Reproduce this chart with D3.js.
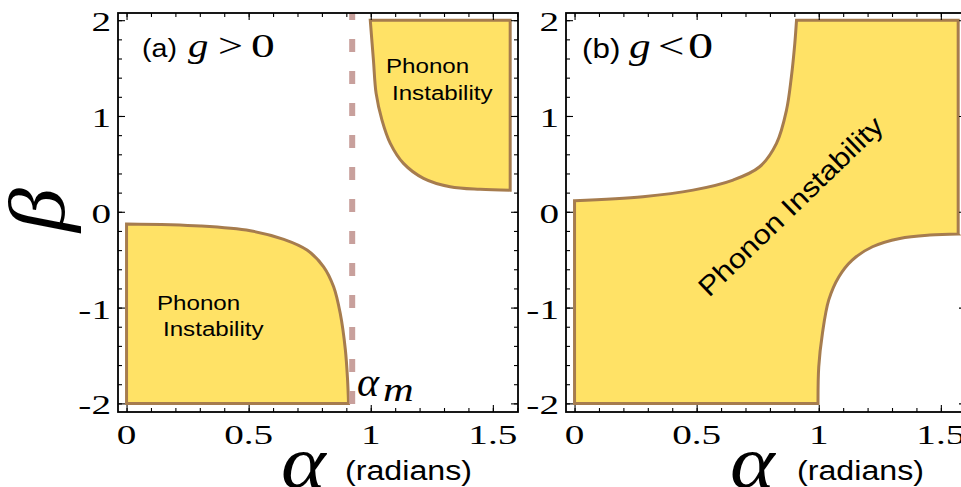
<!DOCTYPE html>
<html>
<head>
<meta charset="utf-8">
<script src="https://cdn.jsdelivr.net/npm/d3@7"></script>
<style>
body { margin: 0; background: #fff; }
svg { display: block; }
</style>
</head>
<body>
<script>
// tick values / labels
var xMajor = [0, 0.5, 1, 1.5];
var xLabels = ["0", "0.5", "1", "1.5"];
var xMinor = [0, 0.1, 0.2, 0.3, 0.4, 0.5, 0.6, 0.7, 0.8, 0.9, 1, 1.1, 1.2, 1.3, 1.4, 1.5, 1.6];
var yMajor = [-2, -1, 0, 1, 2];
var yLabels = ["-2", "-1", "0", "1", "2"];
var yMinor = [-2, -1.8, -1.6, -1.4, -1.2, -1, -0.8, -0.6, -0.4, -0.2, 0, 0.2, 0.4, 0.6, 0.8, 1, 1.2, 1.4, 1.6, 1.8, 2];
var alphaM = 0.924;

// (a) g > 0 : lower-left boundary
var aLowAlpha = [0, 0.303, 0.507, 0.644, 0.739, 0.807, 0.848, 0.875, 0.896, 0.905, 0.909];
var aLowBeta = [-0.128, -0.149, -0.198, -0.288, -0.40, -0.574, -0.783, -1.06, -1.44, -1.75, -2];
// (a) upper-right boundary
var aHighAlpha = [0.998, 1.011, 1.022, 1.046, 1.080, 1.134, 1.216, 1.325, 1.448, 1.571];
var aHighBeta = [2, 1.584, 1.236, 0.957, 0.714, 0.505, 0.349, 0.261, 0.234, 0.226];
// (b) g < 0 : upper boundary
var bHighAlpha = [0, 0.28, 0.485, 0.649, 0.758, 0.827, 0.868, 0.888, 0.902, 0.909];
var bHighBeta = [0.115, 0.157, 0.226, 0.331, 0.47, 0.714, 1.062, 1.41, 1.758, 2];
// (b) lower boundary
var bLowAlpha = [0.997, 1.0, 1.015, 1.041, 1.082, 1.137, 1.22, 1.332, 1.455, 1.571];
var bLowBeta = [-2, -1.618, -1.27, -0.92, -0.68, -0.504, -0.365, -0.278, -0.243, -0.233];

var W = 961, H = 487;
var top_ = 13, bottom = 412, panelW = 400;
var fillCol = "#FFE266", edgeCol = "#A67C4E";
var serif = "'Liberation Serif', 'Times New Roman', serif";
var sans = "'Liberation Sans', Arial, sans-serif";

var svg = d3.select("body").append("svg")
    .attr("width", W)
    .attr("height", H);

function zip(a, b) { return a.map(function (v, i) { return [v, b[i]]; }); }

function txt(g, x, y, s, o) {
    return g.append("text")
        .attr("transform", "translate(" + x + "," + y + ")" + (o.rot ? " rotate(" + o.rot + ")" : "") + " scale(" + (o.sx || 1) + ",1)")
        .attr("font-family", o.family)
        .attr("font-size", o.size)
        .attr("font-style", o.italic ? "italic" : null)
        .attr("text-anchor", o.anchor || "start")
        .attr("fill", "#000")
        .text(s);
}

function drawPanel(left) {
    var g = svg.append("g");
    var x = d3.scaleLinear().domain([-0.035, 1.603]).range([left, left + panelW]);
    var y = d3.scaleLinear().domain([-2.09, 2.075]).range([bottom, top_]);
    var curve = d3.line()
        .x(function (d) { return x(d[0]); })
        .y(function (d) { return y(d[1]); })
        .curve(d3.curveCatmullRom.alpha(0.5));
    function pt(p) { return x(p[0]) + "," + y(p[1]); }
    // region = corners before, smooth curve, corners after
    function region(before, pts, after) {
        var c = curve(pts);
        var d = before.length ? "M" + before.map(pt).join("L") + "L" + c.slice(1) : c;
        after.forEach(function (p) { d += "L" + pt(p); });
        return d + "Z";
    }
    return { g: g, x: x, y: y, curve: curve, region: region, pt: pt };
}

function drawFrame(p) {
    var g = p.g, x = p.x, y = p.y;
    var left = x.range()[0], right = x.range()[1];
    g.append("rect")
        .attr("x", left).attr("y", top_)
        .attr("width", right - left).attr("height", bottom - top_)
        .attr("fill", "none").attr("stroke", "#000").attr("stroke-width", 1.8);

    var axes = [
        [d3.axisBottom, "translate(0," + bottom + ")", x, xMajor, xMinor],
        [d3.axisTop, "translate(0," + top_ + ")", x, xMajor, xMinor],
        [d3.axisLeft, "translate(" + left + ",0)", y, yMajor, yMinor],
        [d3.axisRight, "translate(" + right + ",0)", y, yMajor, yMinor]
    ];
    axes.forEach(function (a) {
        [[a[3], -7], [a[4], -4]].forEach(function (t) {
            var ax = g.append("g").attr("transform", a[1])
                .call(a[0](a[2]).tickValues(t[0]).tickSize(t[1]).tickFormat(""));
            ax.select(".domain").remove();
            ax.selectAll("line").attr("stroke", "#000").attr("stroke-width", 1.1);
        });
    });

    g.selectAll(".xl").data(xMajor).enter().append("text")
        .attr("transform", function (d) { return "translate(" + x(d) + ",444) scale(1.4,1)"; })
        .attr("text-anchor", "middle")
        .attr("font-family", serif).attr("font-size", 28)
        .text(function (d, i) { return xLabels[i]; });
    g.selectAll(".yl").data(yMajor).enter().append("text")
        .attr("transform", function (d) { return "translate(" + (left - 7) + "," + (y(d) + 11) + ") scale(1.4,1)"; })
        .attr("text-anchor", "end")
        .attr("font-family", serif).attr("font-size", 28)
        .text(function (d, i) { return yLabels[i]; });
}

// ---------- panel (a) g > 0 ----------
var pa = drawPanel(118);
pa.g.append("path")
    .attr("d", pa.region([[0, -2]], zip(aLowAlpha, aLowBeta), []))
    .attr("fill", fillCol).attr("stroke", edgeCol).attr("stroke-width", 3).attr("stroke-linejoin", "miter");
pa.g.append("path")
    .attr("d", pa.region([], zip(aHighAlpha, aHighBeta), [[1.571, 2]]))
    .attr("fill", fillCol).attr("stroke", edgeCol).attr("stroke-width", 3).attr("stroke-linejoin", "miter");
pa.g.append("line")
    .attr("x1", pa.x(alphaM)).attr("x2", pa.x(alphaM))
    .attr("y1", top_).attr("y2", bottom)
    .attr("stroke", "#C8A09C").attr("stroke-width", 6)
    .attr("stroke-dasharray", "13,19").attr("stroke-dashoffset", 6);
drawFrame(pa);

txt(pa.g, 142, 57, "(a)", { family: sans, size: 26, sx: 1.1 });
txt(pa.g, 188, 57, "g", { family: serif, size: 34, italic: true, sx: 1.2 });
txt(pa.g, 218, 57, ">", { family: serif, size: 34, sx: 1.3 });
txt(pa.g, 251, 57, "0", { family: serif, size: 34, sx: 1.4 });

txt(pa.g, 157, 310, "Phonon", { family: sans, size: 21, sx: 1.15 });
txt(pa.g, 163, 336, "Instability", { family: sans, size: 21, sx: 1.15 });
txt(pa.g, 386, 73, "Phonon", { family: sans, size: 21, sx: 1.15 });
txt(pa.g, 392, 100, "Instability", { family: sans, size: 21, sx: 1.15 });

txt(pa.g, 357, 396, "α", { family: serif, size: 42, italic: true });
txt(pa.g, 383, 401, "m", { family: serif, size: 34, italic: true, sx: 1.25 });

// ---------- panel (b) g < 0 ----------
var pb = drawPanel(566);
var bPath = pb.region([[0, -2]], zip(bHighAlpha, bHighBeta), [[1.571, 2], [1.571, bLowBeta[bLowBeta.length - 1]]]);
var lowRev = zip(bLowAlpha, bLowBeta).reverse();
bPath = bPath.slice(0, -1) + "L" + pb.curve(lowRev).slice(1) + "Z";
pb.g.append("path")
    .attr("d", bPath)
    .attr("fill", fillCol).attr("stroke", edgeCol).attr("stroke-width", 3).attr("stroke-linejoin", "miter");
drawFrame(pb);

txt(pb.g, 582, 58, "(b)", { family: sans, size: 28, sx: 1.12 });
txt(pb.g, 629, 58, "g", { family: serif, size: 36, italic: true, sx: 1.2 });
txt(pb.g, 658, 58, "<", { family: serif, size: 36, sx: 1.3 });
txt(pb.g, 688, 58, "0", { family: serif, size: 36, sx: 1.4 });

txt(pb.g, 797, 213, "Phonon Instability", { family: sans, size: 27, sx: 1.15, rot: -44, anchor: "middle" });

// ---------- axis titles ----------
txt(svg, 64, 210, "β", { family: serif, size: 80, italic: true, sx: 1.1, rot: -90, anchor: "middle" });
txt(svg, 281, 487, "α", { family: serif, size: 74, italic: true, sx: 1.15 });
txt(svg, 345, 480, "(radians)", { family: sans, size: 28, sx: 1.15 });
txt(svg, 730, 487, "α", { family: serif, size: 74, italic: true, sx: 1.15 });
txt(svg, 797, 480, "(radians)", { family: sans, size: 28, sx: 1.15 });
</script>
</body>
</html>
